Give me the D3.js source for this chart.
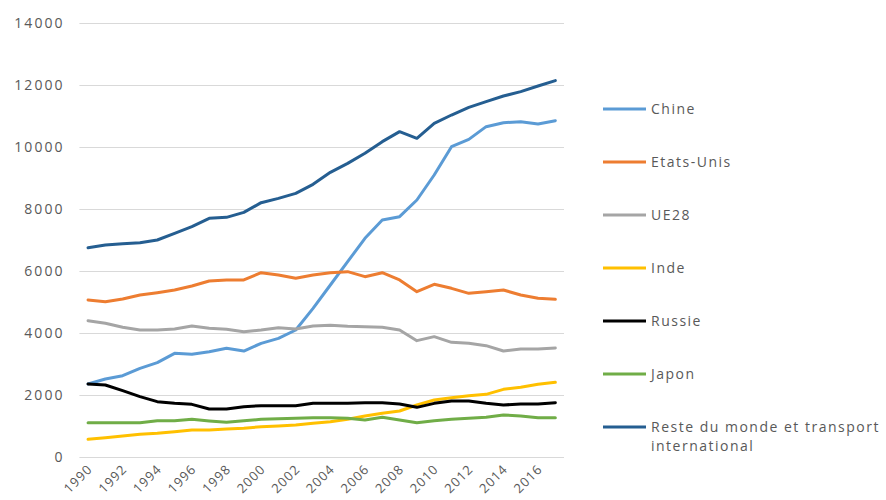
<!DOCTYPE html>
<html>
<head>
<meta charset="utf-8">
<script src="https://cdn.jsdelivr.net/npm/d3@7"></script>
<style>
  body { margin: 0; background: #fff; }
  text { font-family: "Open Sans", "Liberation Sans", sans-serif; fill: #595959; }
</style>
</head>
<body>
<script>
const width = 886, height = 500
const margin = { top: 23, left: 79.4, right: 322, bottom: 43 }

// data (Mt CO2)
const years = d3.range(1990, 2018)
const yTicks = [0, 2000, 4000, 6000, 8000, 10000, 12000, 14000]

const chine = [2355, 2516, 2623, 2860, 3043, 3344, 3312, 3398, 3506, 3419, 3667, 3828, 4097, 4796,
    5548, 6301, 7054, 7645, 7753, 8290, 9097, 10010, 10247, 10656, 10785, 10817, 10742, 10849]
const etatsUnis = [5064, 5010, 5097, 5226, 5301, 5387, 5516, 5677, 5710, 5710, 5946, 5871, 5763, 5871,
    5946, 5978, 5817, 5946, 5710, 5333, 5570, 5441, 5280, 5333, 5387, 5226, 5118, 5086]
const ue28 = [4398, 4312, 4183, 4097, 4097, 4129, 4226, 4151, 4118, 4043, 4097, 4172, 4129, 4226,
    4247, 4215, 4204, 4183, 4097, 3753, 3882, 3699, 3667, 3591, 3419, 3484, 3484, 3516]
const inde = [570, 624, 677, 731, 763, 817, 871, 871, 900, 925, 978, 1000, 1032, 1086,
    1140, 1215, 1323, 1409, 1484, 1677, 1839, 1914, 1978, 2022, 2183, 2247, 2344, 2409]
const russie = [2355, 2323, 2140, 1946, 1785, 1731, 1699, 1548, 1548, 1624, 1656, 1656, 1656, 1731,
    1731, 1731, 1753, 1753, 1710, 1602, 1731, 1806, 1806, 1731, 1677, 1710, 1710, 1753]
const japon = [1108, 1108, 1108, 1108, 1172, 1172, 1215, 1161, 1118, 1172, 1215, 1237, 1247, 1269,
    1269, 1247, 1194, 1280, 1194, 1108, 1172, 1215, 1247, 1280, 1355, 1323, 1269, 1269]
const reste = [6752, 6839, 6882, 6914, 7000, 7215, 7430, 7699, 7731, 7892, 8204, 8344, 8505, 8796,
    9183, 9473, 9796, 10172, 10495, 10280, 10763, 11032, 11280, 11462, 11645, 11785, 11968, 12140]

const series = [
    { name: "Chine", color: "#5B9BD5", values: chine },
    { name: "Etats-Unis", color: "#ED7D31", values: etatsUnis },
    { name: "UE28", color: "#A5A5A5", values: ue28 },
    { name: "Inde", color: "#FFC000", values: inde },
    { name: "Russie", color: "#000000", values: russie },
    { name: "Japon", color: "#70AD47", values: japon },
    { name: "Reste du monde et transport|international", color: "#255E91", values: reste }
]

const svg = d3.select('body').append('svg')
    .attr('width', width)
    .attr('height', height)

const xScale = d3.scaleBand()
    .domain(years)
    .range([margin.left, width - margin.right])

const yScale = d3.scaleLinear()
    .domain([0, 14000])
    .range([height - margin.bottom, margin.top])

// gridlines + y labels
const yAxis = svg.append('g')
    .attr('transform', 'translate(' + margin.left + ',0)')
    .call(d3.axisLeft(yScale)
        .tickValues(yTicks)
        .tickFormat(d3.format('d'))
        .tickSize(-(width - margin.right - margin.left))
        .tickPadding(15))
yAxis.select('.domain').remove()
yAxis.selectAll('line').attr('stroke', '#d9d9d9')
yAxis.selectAll('text')
    .style('font-size', '14px')
    .style('letter-spacing', '2px')
    .attr('fill', '#595959')

// x labels, every other year, rotated
const xAxis = svg.append('g')
    .attr('transform', 'translate(0,' + (height - margin.bottom) + ')')
    .call(d3.axisBottom(xScale)
        .tickValues(years.filter(y => y % 2 == 0 && y <= 2016))
        .tickSize(0))
xAxis.select('.domain').remove()
xAxis.selectAll('text')
    .style('font-size', '13px')
    .style('letter-spacing', '1px')
    .attr('fill', '#595959')
    .attr('text-anchor', 'end')
    .attr('dy', 0)
    .attr('transform', 'translate(3,11)rotate(-45)')

// lines
const line = d3.line()
    .x((d, i) => xScale(years[i]) + xScale.bandwidth() / 2)
    .y(d => yScale(d))

series.forEach(s => {
    svg.append('path')
        .datum(s.values)
        .attr('d', line)
        .attr('fill', 'none')
        .attr('stroke', s.color)
        .attr('stroke-width', 3)
        .attr('stroke-linejoin', 'round')
        .attr('stroke-linecap', 'round')
})

// legend
const legend = svg.append('g')
series.forEach((s, i) => {
    const y = 109 + i * 53
    legend.append('line')
        .attr('x1', 603).attr('x2', 646)
        .attr('y1', y).attr('y2', y)
        .attr('stroke', s.color)
        .attr('stroke-width', 3)
    const t = legend.append('text')
        .attr('x', 651)
        .attr('y', y + 5)
        .style('font-size', '14px')
        .style('letter-spacing', '1.5px')
    s.name.split('|').forEach((part, k) => {
        t.append('tspan')
            .attr('x', 651)
            .attr('dy', k == 0 ? 0 : 19)
            .text(part)
    })
})
</script>
</body>
</html>
